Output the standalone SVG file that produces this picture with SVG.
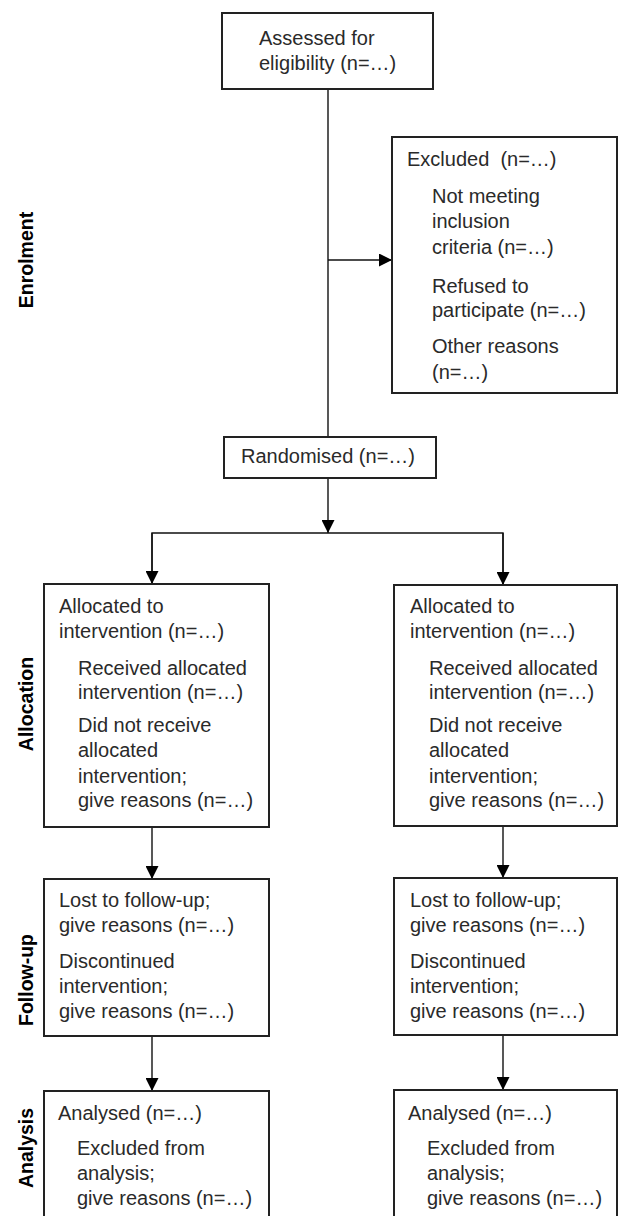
<svg xmlns="http://www.w3.org/2000/svg" width="618" height="1216" viewBox="0 0 618 1216">
<style>
.box{fill:#fff;stroke:#222;stroke-width:2}
.t{font-family:"Liberation Sans",Arial,sans-serif;font-size:20px;fill:#2a2a2a}
.lab{font-family:"Liberation Sans",Arial,sans-serif;font-size:19.5px;font-weight:bold;fill:#000;text-anchor:middle}
.con{fill:none;stroke:#111;stroke-width:1.4}
</style>
<defs>
<marker id="ah" viewBox="0 0 13 13" refX="13" refY="6.5" markerWidth="13" markerHeight="13" markerUnits="userSpaceOnUse" orient="auto">
<path d="M0,0 L13,6.5 L0,13 Z" fill="#000"/>
</marker>
</defs>
<rect width="618" height="1216" fill="#fff"/>
<g id="labels">
<text class="lab" transform="translate(33,260) rotate(-90)">Enrolment</text>
<text class="lab" transform="translate(33,704) rotate(-90)">Allocation</text>
<text class="lab" transform="translate(33,980) rotate(-90)">Follow-up</text>
<text class="lab" transform="translate(33,1148) rotate(-90)">Analysis</text>
</g>
<g id="connectors">
<line class="con" x1="328" y1="89" x2="328" y2="437"/>
<line class="con" x1="328" y1="260" x2="392" y2="260" marker-end="url(#ah)"/>
<line class="con" x1="328" y1="478" x2="328" y2="533" marker-end="url(#ah)"/>
<polyline class="con" points="152,584 152,533 503,533 503,585"/>
<line class="con" x1="152" y1="533" x2="152" y2="584" marker-end="url(#ah)"/>
<line class="con" x1="503" y1="533" x2="503" y2="585" marker-end="url(#ah)"/>
<line class="con" x1="152" y1="827" x2="152" y2="879" marker-end="url(#ah)"/>
<line class="con" x1="503" y1="826" x2="503" y2="878" marker-end="url(#ah)"/>
<line class="con" x1="152" y1="1036" x2="152" y2="1091" marker-end="url(#ah)"/>
<line class="con" x1="503" y1="1035" x2="503" y2="1090" marker-end="url(#ah)"/>
</g>
<g id="assessed">
<rect class="box" x="222" y="13" width="211" height="76"/>
<text class="t" x="259" y="45">Assessed for</text>
<text class="t" x="259" y="70">eligibility (n=…)</text>
</g>
<g id="excluded">
<rect class="box" x="392" y="137" width="225" height="256"/>
<text class="t" x="407" y="166">Excluded&#160; (n=…)</text>
<text class="t" x="432" y="203">Not meeting</text>
<text class="t" x="432" y="228">inclusion</text>
<text class="t" x="432" y="254">criteria (n=…)</text>
<text class="t" x="432" y="293">Refused to</text>
<text class="t" x="432" y="317">participate (n=…)</text>
<text class="t" x="432" y="353">Other reasons</text>
<text class="t" x="432" y="379">(n=…)</text>
</g>
<g id="randomised">
<rect class="box" x="224" y="437" width="212" height="41"/>
<text class="t" x="241" y="463">Randomised (n=…)</text>
</g>
<g id="alloc-left">
<rect class="box" x="44" y="584" width="225" height="243"/>
<text class="t" x="59" y="613">Allocated to</text>
<text class="t" x="59" y="638">intervention (n=…)</text>
<text class="t" x="78" y="675">Received allocated</text>
<text class="t" x="78" y="699">intervention (n=…)</text>
<text class="t" x="78" y="732">Did not receive</text>
<text class="t" x="78" y="757">allocated</text>
<text class="t" x="78" y="783">intervention;</text>
<text class="t" x="78" y="807">give reasons (n=…)</text>
</g>
<g id="alloc-right">
<rect class="box" x="394" y="585" width="223" height="241"/>
<text class="t" x="410" y="613">Allocated to</text>
<text class="t" x="410" y="638">intervention (n=…)</text>
<text class="t" x="429" y="675">Received allocated</text>
<text class="t" x="429" y="699">intervention (n=…)</text>
<text class="t" x="429" y="732">Did not receive</text>
<text class="t" x="429" y="757">allocated</text>
<text class="t" x="429" y="783">intervention;</text>
<text class="t" x="429" y="807">give reasons (n=…)</text>
</g>
<g id="follow-left">
<rect class="box" x="44" y="879" width="225" height="157"/>
<text class="t" x="59" y="907">Lost to follow-up;</text>
<text class="t" x="59" y="932">give reasons (n=…)</text>
<text class="t" x="59" y="968">Discontinued</text>
<text class="t" x="59" y="993">intervention;</text>
<text class="t" x="59" y="1018">give reasons (n=…)</text>
</g>
<g id="follow-right">
<rect class="box" x="394" y="878" width="223" height="157"/>
<text class="t" x="410" y="907">Lost to follow-up;</text>
<text class="t" x="410" y="932">give reasons (n=…)</text>
<text class="t" x="410" y="968">Discontinued</text>
<text class="t" x="410" y="993">intervention;</text>
<text class="t" x="410" y="1018">give reasons (n=…)</text>
</g>
<g id="analysis-left">
<rect class="box" x="44" y="1091" width="225" height="135"/>
<text class="t" x="58" y="1120">Analysed (n=…)</text>
<text class="t" x="77" y="1155">Excluded from</text>
<text class="t" x="77" y="1180">analysis;</text>
<text class="t" x="77" y="1205">give reasons (n=…)</text>
</g>
<g id="analysis-right">
<rect class="box" x="394" y="1090" width="223" height="136"/>
<text class="t" x="408" y="1120">Analysed (n=…)</text>
<text class="t" x="427" y="1155">Excluded from</text>
<text class="t" x="427" y="1180">analysis;</text>
<text class="t" x="427" y="1205">give reasons (n=…)</text>
</g>
</svg>
